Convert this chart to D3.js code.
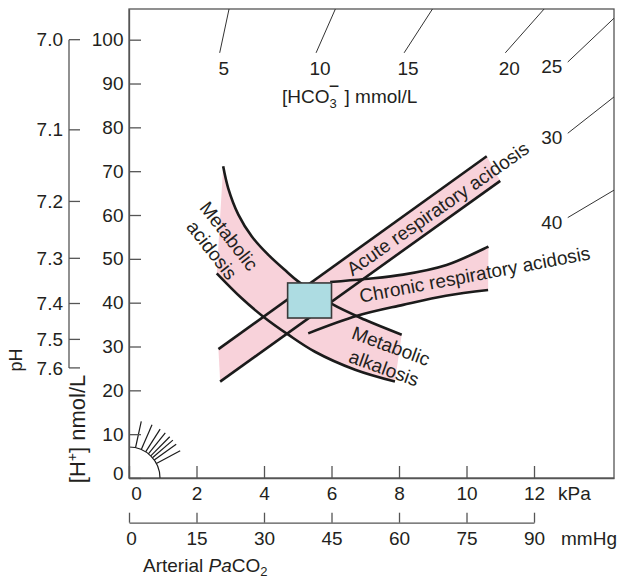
<!DOCTYPE html>
<html>
<head>
<meta charset="utf-8">
<script src="https://cdn.jsdelivr.net/npm/d3@7"></script>
<style>
  body { margin: 0; background: #fff; }
  svg text { font-family: "Liberation Sans", Arial, Helvetica, sans-serif; fill: #231f20; }
</style>
</head>
<body>
<svg id="chart" width="619" height="581"></svg>
<script>
// axis ticks
const kpaTicks = [0, 2, 4, 6, 8, 10, 12]
const mmHgTicks = [0, 15, 30, 45, 60, 75, 90]
const hTicks = [0, 10, 20, 30, 40, 50, 60, 70, 80, 90, 100]
const phTicks = [7.0, 7.1, 7.2, 7.3, 7.4, 7.5, 7.6]

// bicarbonate isopleths: label and slope ([H+] nmol/L per kPa)
const hco3Labels = [5, 10, 15, 20, 25, 30, 40]
const hco3Slopes = [36.1, 17.5, 11.9, 8.7, 7.3, 6.05, 4.57]
// little fan of isopleths near the origin
const fanSlopes = [35.6, 17.8, 12.1, 9.6, 7.8, 6.65, 5.5, 4.1]

// band edges, [PaCO2 kPa, H+ nmol/L]
const acuteUpper = [[2.65, 29.4], [10.6, 73.4]]
const acuteLower = [[2.7, 22.0], [11.0, 67.8]]
const chronicUpper = [[5.96, 44.7], [6.99, 45.4], [8.12, 46.4], [9.41, 48.6], [10.65, 52.8]]
const chronicLower = [[5.31, 33.0], [6.76, 37.0], [8.12, 39.5], [9.39, 41.6], [10.64, 42.9]]
const metabUpper = [[2.79, 71.1], [2.94, 66.1], [3.24, 60.1], [3.64, 55.1], [4.13, 50.9], [4.67, 47.1],
  [5.02, 44.8], [6.01, 39.7], [6.99, 36.1], [8.08, 32.7]]
const metabLower = [[2.6, 46.7], [3.34, 41.0], [3.98, 36.8], [4.72, 32.7], [5.51, 28.8], [6.7, 24.7], [7.88, 22.0]]

// normal range box
const normalPco2 = [4.7, 6.0]
const normalH = [36.5, 44.5]

const pink = "#f8d2da"
const axisGrey = "#555"
const ink = "#1b1b1b"

const svg = d3.select("#chart")

const x = d3.scaleLinear([0, 14.37], [129, 614])
const y = d3.scaleLinear([0, 107], [478, 9])
const mm = d3.scaleLinear([0, 90], [x(0), x(12)])
const hFromPh = p => Math.pow(10, 9 - p)

const line = d3.line().x(d => x(d[0])).y(d => y(d[1])).curve(d3.curveCatmullRom.alpha(0.5))

// frame
svg.append("rect")
  .attr("x", x(0)).attr("y", y(107))
  .attr("width", x(14.37) - x(0)).attr("height", y(0) - y(107))
  .attr("fill", "none").attr("stroke", axisGrey).attr("stroke-width", 1.3)

// band fills
const bands = [[acuteUpper, acuteLower], [chronicUpper, chronicLower], [metabUpper, metabLower]]
svg.append("g").selectAll("path")
  .data(bands)
  .join("path")
  .attr("d", d => line(d[0]) + "L" + line(d[1].slice().reverse()).slice(1) + "Z")
  .attr("fill", pink)

// band edges
svg.append("g").selectAll("path")
  .data([acuteUpper, acuteLower, chronicUpper, chronicLower, metabUpper, metabLower])
  .join("path")
  .attr("d", d => line(d))
  .attr("fill", "none")
  .attr("stroke", ink)
  .attr("stroke-width", 2.6)

// normal box
svg.append("rect")
  .attr("x", x(normalPco2[0])).attr("y", y(normalH[1]))
  .attr("width", x(normalPco2[1]) - x(normalPco2[0]))
  .attr("height", y(normalH[0]) - y(normalH[1]))
  .attr("fill", "#addce2").attr("stroke", "#3a3a3a").attr("stroke-width", 1.6)

// HCO3 isopleths
const iso = hco3Labels.map((h, i) => {
  const s = hco3Slopes[i]
  const pTop = 107 / s
  if (pTop <= 14.37) {
    return { h, p0: [pTop, 107], p1: [97 / s, 97], lx: x(97 / s) + 4, ly: y(97) + 22 }
  }
  return { h, p0: [14.37, s * 14.37], p1: [13, s * 13], lx: x(13) - 16, ly: y(s * 13) + 11 }
})
const isoG = svg.append("g")
isoG.selectAll("line")
  .data(iso)
  .join("line")
  .attr("x1", d => x(d.p0[0])).attr("y1", d => y(d.p0[1]))
  .attr("x2", d => x(d.p1[0])).attr("y2", d => y(d.p1[1]))
  .attr("stroke", "#333").attr("stroke-width", 1)
isoG.selectAll("text")
  .data(iso)
  .join("text")
  .attr("x", d => d.lx).attr("y", d => d.ly)
  .attr("text-anchor", "middle")
  .attr("font-size", 19)
  .text(d => d.h)

const hcoTitle = svg.append("text").attr("x", 282).attr("y", 103).attr("font-size", 19)
hcoTitle.append("tspan").text("[HCO")
hcoTitle.append("tspan").attr("dy", 5).attr("font-size", 13).text("3")
hcoTitle.append("tspan").attr("dx", -8).attr("dy", -16).attr("font-size", 18).text("\u2212")
hcoTitle.append("tspan").attr("dy", 11).text(" ] mmol/L")

// fan near origin
const ox = x(0), oy = y(0)
svg.append("path")
  .attr("d", `M${ox + 31},${oy}A31,31 0 0 0 ${ox},${oy - 31}`)
  .attr("fill", "none").attr("stroke", ink).attr("stroke-width", 1.2)
svg.append("g").selectAll("line")
  .data(fanSlopes)
  .join("line")
  .each(function(s) {
    const dx = x(1) - x(0), dy = y(s) - y(0)
    const len = Math.hypot(dx, dy)
    d3.select(this)
      .attr("x1", ox + 31 * dx / len).attr("y1", oy + 31 * dy / len)
      .attr("x2", ox + 58 * dx / len).attr("y2", oy + 58 * dy / len)
  })
  .attr("stroke", ink).attr("stroke-width", 1.2)

// axes
const styleAxis = g => {
  g.attr("font-size", 19).attr("font-family", null)
  g.selectAll("path, line").attr("stroke", axisGrey).attr("stroke-width", 1.3)
}

svg.append("g")
  .attr("transform", `translate(${x(0)},0)`)
  .call(d3.axisLeft(y).tickValues(hTicks).tickSizeInner(-12).tickSizeOuter(0).tickPadding(5.5))
  .call(styleAxis)
  .call(g => g.selectAll(".tick text").filter(d => d === 0).attr("dy", "0.1em"))

svg.append("g")
  .attr("transform", `translate(0,${y(0)})`)
  .call(d3.axisBottom(x).tickValues(kpaTicks).tickSizeInner(-12).tickSizeOuter(0).tickPadding(8.5))
  .call(styleAxis)
  .call(g => g.selectAll(".tick text").filter(d => d === 0).attr("dx", 7))

svg.append("g")
  .attr("transform", "translate(0,522.7)")
  .call(d3.axisBottom(mm).tickValues(mmHgTicks).tickSizeInner(-10).tickSizeOuter(0).tickPadding(9))
  .call(styleAxis)
  .call(g => g.selectAll(".tick text").filter(d => d === 0).attr("dx", 2))

svg.append("text").attr("x", 558).attr("y", 500).attr("font-size", 19).text("kPa")
svg.append("text").attr("x", 561).attr("y", 545).attr("font-size", 19).text("mmHg")

const xTitle = svg.append("text").attr("x", 143).attr("y", 572).attr("font-size", 19)
xTitle.append("tspan").text("Arterial ")
xTitle.append("tspan").attr("font-style", "italic").text("Pa")
xTitle.append("tspan").text("CO")
xTitle.append("tspan").attr("dy", 4).attr("font-size", 13).text("2")

// pH axis
const phX = 69
const phG = svg.append("g")
phG.append("line")
  .attr("x1", phX).attr("x2", phX)
  .attr("y1", y(hFromPh(phTicks[0]))).attr("y2", y(hFromPh(phTicks[phTicks.length - 1])))
  .attr("stroke", axisGrey).attr("stroke-width", 1.3)
phG.selectAll("line.tick")
  .data(phTicks)
  .join("line")
  .attr("class", "tick")
  .attr("x1", phX).attr("x2", phX + 11)
  .attr("y1", d => y(hFromPh(d))).attr("y2", d => y(hFromPh(d)))
  .attr("stroke", axisGrey).attr("stroke-width", 1.3)
phG.selectAll("text")
  .data(phTicks)
  .join("text")
  .attr("x", phX - 6)
  .attr("y", d => y(hFromPh(d)))
  .attr("dy", "0.35em")
  .attr("text-anchor", "end")
  .attr("font-size", 19)
  .text(d => d.toFixed(1))

svg.append("text")
  .attr("transform", "translate(22,360) rotate(-90)")
  .attr("text-anchor", "middle").attr("font-size", 18)
  .text("pH")

const hTitle = svg.append("text")
  .attr("transform", "translate(85,429) rotate(-90)")
  .attr("text-anchor", "middle").attr("font-size", 22)
hTitle.append("tspan").text("[H")
hTitle.append("tspan").attr("dy", -8).attr("font-size", 14).text("+")
hTitle.append("tspan").attr("dy", 8).text("] nmol/L")

// band labels
const bandLabel = (tx, ty, angle, txt) => svg.append("text")
  .attr("transform", `translate(${tx},${ty}) rotate(${angle})`)
  .attr("text-anchor", "middle")
  .attr("font-size", 19)
  .text(txt)

bandLabel(441.5, 214, -35, "Acute respiratory acidosis")
bandLabel(476, 281, -10.7, "Chronic respiratory acidosis")

const centred = (tx, ty, angle, txt) => bandLabel(tx, ty, angle, txt).attr("dy", "0.35em")
centred(229, 236, 52, "Metabolic")
centred(212, 250, 52, "acidosis")
centred(391, 346, 20, "Metabolic")
centred(384, 368, 20, "alkalosis")
</script>
</body>
</html>
